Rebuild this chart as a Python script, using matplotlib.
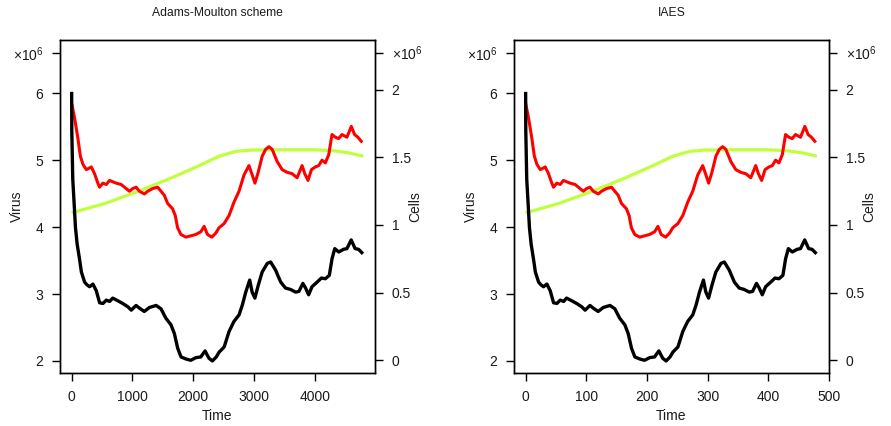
import matplotlib

matplotlib.use("Agg")
import matplotlib.pyplot as plt

plt.rcParams["font.family"] = ["Liberation Sans", "DejaVu Sans"]
plt.rcParams["mathtext.fontset"] = "custom"
plt.rcParams["mathtext.rm"] = "Liberation Sans"
plt.rcParams["mathtext.it"] = "Liberation Sans:italic"

# virus (black, left axis, x1e6)
VIRUS_T_AM = [0, 2, 18, 44, 62, 90, 130, 160, 213, 250, 295, 350, 405, 460, 515, 570,
              625, 675, 760, 840, 925, 980, 1060, 1115, 1195, 1280, 1390, 1470, 1550,
              1635, 1690, 1745, 1800, 1880, 1960, 2045, 2125, 2195, 2260, 2315, 2380,
              2425, 2510, 2590, 2670, 2755, 2810, 2865, 2930, 2970, 3015, 3070, 3135,
              3220, 3275, 3355, 3440, 3520, 3600, 3685, 3740, 3805, 3850, 3900, 3955,
              4040, 4110, 4175, 4240, 4285, 4330, 4395, 4475, 4530, 4600, 4665, 4720, 4775]
VIRUS_T_IAES = [0, 0.2, 1.8, 4.4, 6.2, 9, 13, 16, 21.3, 25, 29.5, 35, 40.5, 46, 51.5, 57,
                62.5, 67.5, 76, 84, 92.5, 98, 106, 111.5, 119.5, 128, 139, 147, 155,
                163.5, 169, 174.5, 180, 188, 196, 204.5, 212.5, 219.5, 226, 231.5, 238,
                242.5, 251, 259, 267, 275.5, 281, 286.5, 293, 297, 301.5, 307, 313.5,
                322, 327.5, 335.5, 344, 352, 360, 368.5, 374, 380.5, 385, 390, 395.5,
                404, 411, 417.5, 424, 428.5, 433, 439.5, 447.5, 453, 460, 466.5, 472, 477.5]
VIRUS = [6.00, 5.45, 4.72, 4.30, 4.00, 3.75, 3.52, 3.33, 3.18, 3.14, 3.11, 3.15, 3.05, 2.87,
         2.86, 2.91, 2.89, 2.94, 2.90, 2.86, 2.81, 2.76, 2.83, 2.79, 2.74, 2.80, 2.83, 2.78,
         2.64, 2.54, 2.41, 2.19, 2.06, 2.03, 2.01, 2.05, 2.06, 2.15, 2.04, 2.00, 2.06, 2.13,
         2.21, 2.44, 2.59, 2.69, 2.84, 3.03, 3.21, 3.03, 2.94, 3.13, 3.33, 3.46, 3.48, 3.36,
         3.18, 3.09, 3.07, 3.03, 3.04, 3.16, 3.09, 2.99, 3.11, 3.18, 3.24, 3.23, 3.28, 3.53,
         3.68, 3.63, 3.67, 3.68, 3.81, 3.68, 3.67, 3.62]

# red series (right axis, x1e6)
RED_T_AM = [0, 49, 103, 143, 185, 241, 284, 323, 377, 431, 459, 513, 569, 623, 677, 733,
            815, 869, 951, 1005, 1061, 1115, 1197, 1251, 1333, 1415, 1470, 1525, 1579,
            1661, 1705, 1743, 1798, 1880, 1962, 2044, 2126, 2180, 2234, 2307, 2372, 2426,
            2508, 2590, 2672, 2754, 2836, 2918, 2972, 3016, 3070, 3136, 3192, 3246, 3300,
            3382, 3464, 3546, 3628, 3710, 3738, 3792, 3836, 3890, 3946, 4011, 4066, 4120,
            4175, 4230, 4284, 4339, 4393, 4448, 4530, 4602, 4656, 4710, 4766]
RED_T_IAES = [0, 4.9, 10.3, 14.3, 18.5, 24.1, 28.4, 32.3, 37.7, 43.1, 45.9, 51.3, 56.9,
              62.3, 67.7, 73.3, 81.5, 86.9, 95.1, 100.5, 106.1, 111.5, 119.7, 125.1, 133.3,
              141.5, 147, 152.5, 157.9, 166.1, 170.5, 174.3, 179.8, 188, 196.2, 204.4,
              212.6, 218, 223.4, 230.7, 237.2, 242.6, 250.8, 259, 267.2, 275.4, 283.6,
              291.8, 297.2, 301.6, 307, 313.6, 319.2, 324.6, 330, 338.2, 346.4, 354.6,
              362.8, 371, 373.8, 379.2, 383.6, 389, 394.6, 401.1, 406.6, 412, 417.5, 423,
              428.4, 433.9, 439.3, 444.8, 453, 460.2, 465.6, 471, 476.6]
RED = [1.90, 1.79, 1.64, 1.51, 1.45, 1.41, 1.42, 1.43, 1.38, 1.31, 1.28, 1.31, 1.30, 1.33,
       1.32, 1.31, 1.30, 1.28, 1.25, 1.27, 1.28, 1.25, 1.23, 1.25, 1.27, 1.28, 1.25, 1.22,
       1.16, 1.12, 1.07, 0.98, 0.93, 0.91, 0.92, 0.93, 0.95, 0.99, 0.93, 0.91, 0.94, 0.98,
       1.01, 1.07, 1.17, 1.25, 1.37, 1.44, 1.37, 1.31, 1.39, 1.51, 1.56, 1.58, 1.56, 1.47,
       1.41, 1.39, 1.38, 1.35, 1.38, 1.44, 1.38, 1.33, 1.41, 1.43, 1.44, 1.48, 1.46, 1.52,
       1.67, 1.65, 1.64, 1.67, 1.65, 1.73, 1.67, 1.65, 1.62]

# green series (right axis, x1e6)
GREEN_T_AM = [0, 550, 1100, 1650, 2100, 2430, 2700, 2950, 3500, 4000, 4300, 4550, 4800]
GREEN_T_IAES = [0, 55, 110, 165, 210, 243, 270, 295, 350, 400, 430, 455, 480]
GREEN = [1.09, 1.16, 1.25, 1.35, 1.44, 1.51, 1.545, 1.555, 1.557, 1.557, 1.55, 1.535, 1.51]

PANELS = [
    ("Adams-Moulton scheme", VIRUS_T_AM, RED_T_AM, GREEN_T_AM, (-192, 4992), [0, 1000, 2000, 3000, 4000]),
    ("IAES", VIRUS_T_IAES, RED_T_IAES, GREEN_T_IAES, (-19.2, 499.5), [0, 100, 200, 300, 400, 500]),
]

TEXT = "#1a1a1a"
TICK_FONT = 10


def draw_panel(fig, rect, title, t_virus, t_red, t_green, xlim, xticks):
    ax = fig.add_axes(rect)
    ax2 = ax.twinx()
    ax.set_zorder(ax2.get_zorder() + 1)
    ax.patch.set_visible(False)

    ax2.plot(t_green, GREEN, color="#c0ff3e", linewidth=2.3, solid_capstyle="butt")
    ax2.plot(t_red, RED, color="#ff0000", linewidth=2.2)
    ax.plot(t_virus, VIRUS, color="black", linewidth=2.4)

    ax.set_xlim(*xlim)
    ax.set_ylim(1.82, 6.8)
    ax2.set_ylim(-0.096, 2.37)

    ax.set_xticks(xticks)
    ax.set_xticklabels([str(v) for v in xticks])
    ax.set_yticks([2, 3, 4, 5, 6, 6.61])
    ax.set_yticklabels(["2", "3", "4", "5", "6", r"$\times\mathregular{10^6}$"])
    ax2.set_yticks([0, 0.5, 1, 1.5, 2, 2.276])
    ax2.set_yticklabels(["0", "0.5", "1", "1.5", "2", r"$\times\mathregular{10^6}$"])

    for a in (ax, ax2):
        a.tick_params(length=6, width=1, pad=6, labelsize=TICK_FONT, labelcolor=TEXT)
        for spine in a.spines.values():
            spine.set_linewidth(1.0)
    ax.yaxis.get_major_ticks()[-1].tick1line.set_color("#888888")
    ax2.yaxis.get_major_ticks()[-1].tick2line.set_color("#888888")

    ax.set_title(title, fontsize=8.7, color=TEXT, pad=17)
    ax.set_xlabel("Time", fontsize=10, color=TEXT)
    ax.xaxis.set_label_coords(0.5, -0.108)
    ax.set_ylabel("Virus", fontsize=10, color=TEXT)
    ax.yaxis.set_label_coords(-0.115, 0.5)
    ax2.set_ylabel("Cells", fontsize=10, color=TEXT)
    ax2.yaxis.set_label_coords(1.105, 0.5)


def main():
    fig = plt.figure(figsize=(8.91, 4.26), dpi=100)
    rects = [
        [60 / 891, 53 / 426, 315 / 891, 333 / 426],
        [514 / 891, 53 / 426, 315 / 891, 333 / 426],
    ]
    for rect, (title, tv, tr, tg, xlim, xticks) in zip(rects, PANELS):
        draw_panel(fig, rect, title, tv, tr, tg, xlim, xticks)
    fig.savefig("out.png", dpi=100)
    plt.close(fig)


if __name__ == "__main__":
    main()
